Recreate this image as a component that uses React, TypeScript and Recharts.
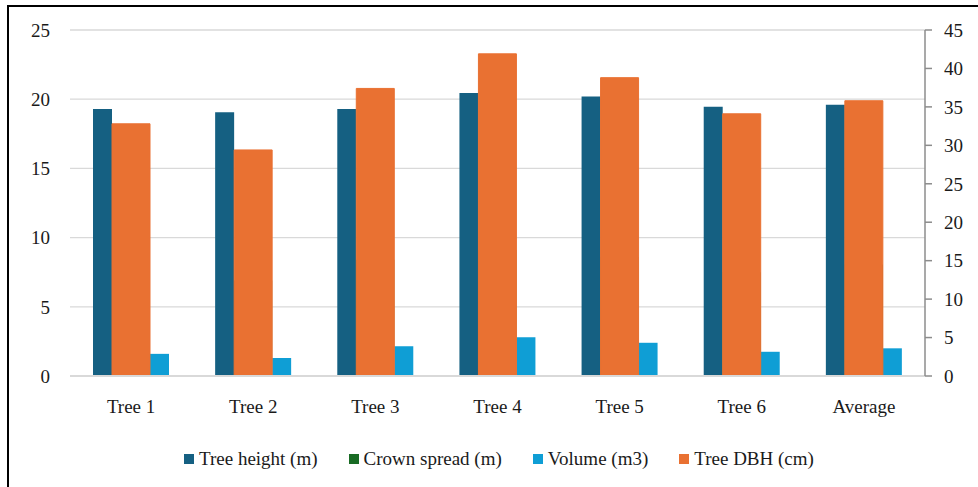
import { Bar, BarChart, CartesianGrid, XAxis, YAxis } from "recharts";

const categories = ["Tree 1", "Tree 2", "Tree 3", "Tree 4", "Tree 5", "Tree 6", "Average"];
const treeHeight = [19.3, 19.05, 19.3, 20.45, 20.2, 19.45, 19.6];
const crownSpread = [7.8, 6.9, 8.4, 9.1, 8.6, 7.5, 8.05];
const volume = [1.6, 1.3, 2.15, 2.8, 2.4, 1.75, 2.0];
const treeDbh = [32.8, 29.4, 37.4, 41.9, 38.8, 34.1, 35.8];
const leftTicks = [0, 5, 10, 15, 20, 25];
const rightTicks = [0, 5, 10, 15, 20, 25, 30, 35, 40, 45];

const series = [
  { key: "height", name: "Tree height (m)", color: "#156082" },
  { key: "crown", name: "Crown spread (m)", color: "#196B24" },
  { key: "volume", name: "Volume (m3)", color: "#0F9ED5" },
  { key: "dbh", name: "Tree DBH (cm)", color: "#E97132" },
];

const data = categories.map((name, i) => ({
  name,
  height: treeHeight[i],
  crown: crownSpread[i],
  volume: volume[i],
  dbh: treeDbh[i],
}));

const font = '"Liberation Serif", "Times New Roman", serif';
const tickStyle = { fontFamily: font, fontSize: 19, fill: "#1a1a1a" };

export default function App() {
  return (
    <div
      style={{
        position: "absolute",
        left: 0,
        top: 0,
        width: 978,
        height: 487,
        overflow: "hidden",
        background: "#fff",
      }}
    >
      <div
        style={{
          position: "absolute",
          left: 7,
          top: 5,
          width: 1000,
          height: 500,
          border: "2px solid #000",
        }}
      />
      <div style={{ position: "absolute", left: 0, top: 0 }}>
        <BarChart
          width={990}
          height={426}
          data={data}
          margin={{ top: 30, right: 10, bottom: 0, left: 10 }}
          barGap={0}
        >
          <CartesianGrid
            vertical={false}
            stroke="#d9d9d9"
            strokeWidth={1.3}
            yAxisId="left"
            xAxisId="main"
          />
          <XAxis
            xAxisId="main"
            dataKey="name"
            height={50}
            tickLine={false}
            tickSize={0}
            tickMargin={24}
            axisLine={{ stroke: "#d9d9d9", strokeWidth: 2 }}
            tick={tickStyle}
          />
          <XAxis xAxisId="dbh" dataKey="name" orientation="top" height={0} hide />
          <YAxis
            yAxisId="left"
            width={60}
            domain={[0, 25]}
            ticks={leftTicks}
            axisLine={false}
            tickLine={false}
            tickSize={0}
            tickMargin={20}
            tick={tickStyle}
          />
          <YAxis
            yAxisId="right"
            orientation="right"
            width={55}
            domain={[0, 45]}
            ticks={rightTicks}
            axisLine={{ stroke: "#8c8c8c", strokeWidth: 1.5 }}
            tickLine={{ stroke: "#8c8c8c", strokeWidth: 1.5 }}
            tickSize={7}
            tickMargin={12}
            tick={{ ...tickStyle, textAnchor: "start" }}
          />
          <Bar
            xAxisId="main"
            yAxisId="left"
            dataKey="height"
            name="Tree height (m)"
            fill="#156082"
            barSize={19}
            isAnimationActive={false}
          />
          <Bar
            xAxisId="main"
            yAxisId="left"
            dataKey="crown"
            name="Crown spread (m)"
            fill="#196B24"
            barSize={38}
            isAnimationActive={false}
          />
          <Bar
            xAxisId="main"
            yAxisId="left"
            dataKey="volume"
            name="Volume (m3)"
            fill="#0F9ED5"
            barSize={19}
            isAnimationActive={false}
          />
          <Bar
            xAxisId="dbh"
            yAxisId="right"
            dataKey="dbh"
            name="Tree DBH (cm)"
            fill="#E97132"
            stroke="#E97132"
            strokeWidth={1}
            barSize={38}
            isAnimationActive={false}
          />
        </BarChart>
      </div>
      <div
        style={{
          position: "absolute",
          left: 184,
          top: 448,
          display: "flex",
          alignItems: "center",
          gap: 31,
          fontFamily: font,
          fontSize: 19,
          color: "#1a1a1a",
          whiteSpace: "nowrap",
        }}
      >
        {series.map((s) => (
          <div key={s.key} style={{ display: "flex", alignItems: "center" }}>
            <span
              style={{
                display: "inline-block",
                width: 10,
                height: 10,
                background: s.color,
                marginRight: 5,
              }}
            />
            <span>{s.name}</span>
          </div>
        ))}
      </div>
    </div>
  );
}
